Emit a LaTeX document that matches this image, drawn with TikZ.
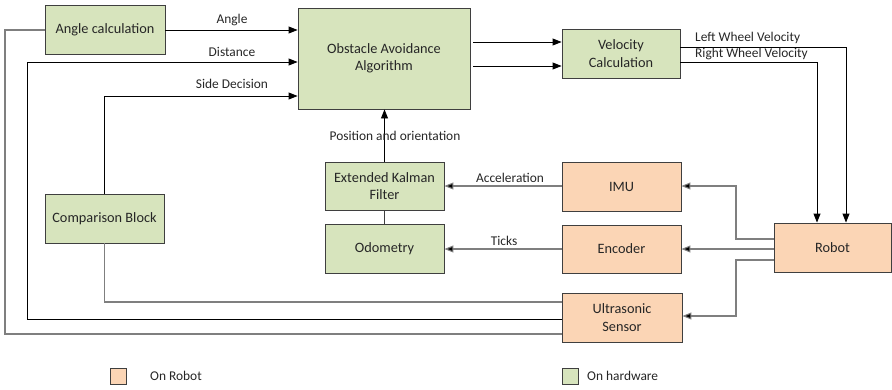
\documentclass[tikz,border=0pt]{standalone}
\usepackage{fontspec}
\setmainfont{Carlito}
\usetikzlibrary{arrows.meta}
\definecolor{hwgreen}{HTML}{D7E4BD}
\definecolor{robotorange}{HTML}{FBD5B5}
\definecolor{edgegray}{HTML}{3F3F3F}
\definecolor{wiregray}{HTML}{7F7F7F}
\definecolor{txt}{HTML}{262626}
\tikzset{
  blockbase/.style={draw=edgegray, line width=0.9pt, inner sep=2pt, align=center,
    font=\fontsize{14.3}{17.5}\selectfont, text=txt},
  hwblock/.style={blockbase, fill=hwgreen},
  robotblock/.style={blockbase, fill=robotorange},
  wire/.style={line width=0.9pt, draw=black},
  graywire/.style={line width=1.1pt, draw=wiregray},
  arr/.style={wire, -{Triangle[length=9pt,width=7pt]}},
  grayarr/.style={graywire, -{Triangle[length=9pt,width=7pt,fill=black]}},
  lbl/.style={font=\fontsize{13.4}{15}\selectfont, text=txt, inner sep=0pt},
  legendbox/.style={draw=edgegray, line width=0.9pt, minimum width=16pt, minimum height=16pt, inner sep=0pt},
}
\begin{document}
\begin{tikzpicture}[x=1pt, y=-1pt]
\useasboundingbox (0,0) rectangle (892,389);

% blocks
\node[hwblock, minimum width=120pt, minimum height=49pt] (angle) at (105,30) {Angle calculation};
\node[hwblock, minimum width=172pt, minimum height=101pt] (oaa) at (384,58.5) {Obstacle Avoidance\\Algorithm};
\node[hwblock, minimum width=118pt, minimum height=49pt] (vel) at (621,53.5) {Velocity\\Calculation};
\node[hwblock, minimum width=119pt, minimum height=48pt] (ekf) at (384.5,186) {Extended Kalman\\Filter};
\node[hwblock, minimum width=119pt, minimum height=49pt] (odo) at (384.5,248.5) {Odometry};
\node[hwblock, minimum width=119pt, minimum height=49pt] (comp) at (104.5,218.5) {Comparison Block};
\node[robotblock, minimum width=119pt, minimum height=49pt] (imu) at (621.5,186.5) {IMU};
\node[robotblock, minimum width=119pt, minimum height=48pt] (enc) at (621.5,249) {Encoder};
\node[robotblock, minimum width=120pt, minimum height=49pt] (ult) at (622,317.5) {Ultrasonic\\Sensor};
\node[robotblock, minimum width=117pt, minimum height=49pt] (robot) at (832.5,247.5) {Robot};

% inputs of the obstacle avoidance algorithm
\draw[arr] (angle.east) -- (angle.east -| oaa.west);
\node[lbl] (lblangle) at (232,20) {Angle};
\draw[wire] (ult.west |- 0,319) -| (27,62);
\draw[arr] (27,62) -- (oaa.west |- 0,62);
\node[lbl] (lbldist) at (232,52) {Distance};
\draw[arr] (comp.north) |- (oaa.west |- 0,96);
\node[lbl] (lblside) at (232,84) {Side Decision};

% ultrasonic sensor feedback
\draw[graywire] (angle.west) -| (5,334) -- (ult.west |- 0,334);
\draw[graywire] (comp.south) |- (ult.west |- 0,302);

% velocity commands
\draw[arr, shorten <=3pt] (oaa.east |- 0,42) -- (vel.west |- 0,42);
\draw[arr, shorten <=3pt] (oaa.east |- 0,66) -- (vel.west |- 0,66);
\draw[arr] (vel.east |- 0,47) -| (846,0 |- robot.north);
\draw[arr] (vel.east |- 0,62) -| (817,0 |- robot.north);
\node[lbl, anchor=west] (lblleft) at (695,38) {Left Wheel Velocity};
\node[lbl, anchor=west] (lblright) at (695,54) {Right Wheel Velocity};

% robot to its sensors
\draw[grayarr] (robot.west |- 0,239) -| (736,186) -- (imu.east |- 0,186);
\draw[grayarr] (robot.west |- 0,249) -- (enc.east |- 0,249);
\draw[grayarr] (robot.west |- 0,260) -| (736,316) -- (ult.east |- 0,316);

% state estimation
\draw[grayarr] (imu.west |- 0,186) -- (ekf.east |- 0,186);
\node[lbl] (lblacc) at (510,178) {Acceleration};
\draw[grayarr] (enc.west |- 0,249) -- (odo.east |- 0,249);
\node[lbl] (lblticks) at (504,241) {Ticks};
\draw[line width=0.9pt, draw=edgegray] (ekf.south) -- (odo.north);
\draw[arr] (ekf.north) -- (ekf.north |- oaa.south);
\node[lbl] (lblpos) at (395,136) {Position and orientation};

% legend
\node[legendbox, fill=robotorange] (legrobot) at (118.5,376) {};
\node[lbl, anchor=west] (legrobottxt) at (150,376) {On Robot};
\node[legendbox, fill=hwgreen] (leghw) at (570,376) {};
\node[lbl, anchor=west] (leghwtxt) at (587,376) {On hardware};
\end{tikzpicture}
\end{document}
